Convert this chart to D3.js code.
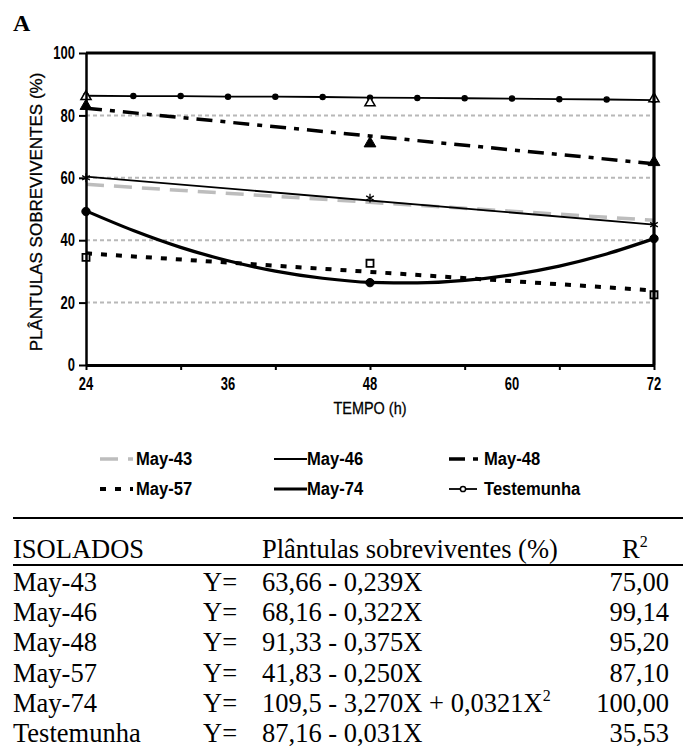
<!DOCTYPE html>
<html>
<head>
<meta charset="utf-8">
<script src="https://cdn.jsdelivr.net/npm/d3@7"></script>
<style>
  body { margin: 0; background: #fff; }
</style>
</head>
<body>
<div id="chart"></div>
<script>
// valores
var trendHours = [24, 72];
var may43 = [57.9, 46.4];
var may46 = [60.4, 45.0];
var may48 = [82.3, 64.5];
var may57 = [35.8, 23.9];

var curveHours = [24, 28, 32, 36, 40, 44, 48, 52, 56, 60, 64, 68, 72];
var may74 = [49.4, 43.1, 37.7, 33.4, 30.1, 27.8, 26.5, 26.3, 27.1, 28.9, 31.7, 35.6, 40.5];
var testemunha = [86.3, 86.2, 86.2, 86.0, 86.0, 85.9, 85.7, 85.6, 85.5, 85.4, 85.2, 85.1, 84.9];

var pointHours = [24, 48, 72];
var may46Pts = [60.0, 53.5, 45.0];
var may48Pts = [83.0, 71.0, 65.0];
var may57Pts = [34.5, 32.6, 22.5];
var may74Pts = [49.2, 26.4, 40.5];
var testPts = [86.0, 84.0, 85.3];

var yTicks = [0, 20, 40, 60, 80, 100];
var xTicks = [24, 32, 40, 48, 56, 64, 72];
var xLabels = [24, 36, 48, 60, 72];

var legendNames = ["May-43", "May-46", "May-48", "May-57", "May-74", "Testemunha"];

var isolados = ["May-43", "May-46", "May-48", "May-57", "May-74", "Testemunha"];
var equacoes = ["63,66 - 0,239X", "68,16 - 0,322X", "91,33 - 0,375X", "41,83 - 0,250X", "109,5 - 3,270X + 0,0321X", "87,16 - 0,031X"];
var expoentes = ["", "", "", "", "2", ""];
var r2 = ["75,00", "99,14", "95,20", "87,10", "100,00", "35,53"];

var sansFont = "'Liberation Sans', Arial, sans-serif";
var serifFont = "'Liberation Serif', 'Times New Roman', serif";

var styles = {
	"May-43": {stroke: "#bdbdbd", width: 3.5, dash: "18,10"},
	"May-46": {stroke: "#000", width: 1.8, dash: null},
	"May-48": {stroke: "#000", width: 3.5, dash: "16,8,5,8"},
	"May-57": {stroke: "#000", width: 4, dash: "6,9"},
	"May-74": {stroke: "#000", width: 3.2, dash: null},
	"Testemunha": {stroke: "#000", width: 1.8, dash: null}
};

function condense(sel, k) {
	sel.each(function() {
		var w = this.getComputedTextLength();
		d3.select(this).attr("textLength", w * k).attr("lengthAdjust", "spacingAndGlyphs");
	});
}

var width = 683, height = 747;
var svg = d3.select("#chart").append("svg")
	.attr("width", width).attr("height", height)
	.style("background", "#fff");

var x = d3.scaleLinear().domain([24, 72]).range([86, 654]);
var y = d3.scaleLinear().domain([0, 100]).range([365, 53]);

svg.append("text")
	.attr("x", 13).attr("y", 31)
	.attr("font-family", serifFont).attr("font-weight", "bold").attr("font-size", 24)
	.text("A");

// grade
svg.append("g").selectAll("line")
	.data(yTicks.filter(function(d) { return d > 0 && d < 100; }))
	.enter().append("line")
	.attr("x1", x(24)).attr("x2", x(72))
	.attr("y1", function(d) { return y(d); }).attr("y2", function(d) { return y(d); })
	.attr("stroke", "#b8b8b8").attr("stroke-width", 2).attr("stroke-dasharray", "4,3");

var line = d3.line()
	.x(function(d) { return x(d[0]); })
	.y(function(d) { return y(d[1]); });

var curve = d3.line()
	.x(function(d) { return x(d[0]); })
	.y(function(d) { return y(d[1]); })
	.curve(d3.curveMonotoneX);

var series = [
	{name: "May-43", pts: d3.zip(trendHours, may43), gen: line},
	{name: "May-46", pts: d3.zip(trendHours, may46), gen: line},
	{name: "May-48", pts: d3.zip(trendHours, may48), gen: line},
	{name: "May-57", pts: d3.zip(trendHours, may57), gen: line},
	{name: "May-74", pts: d3.zip(curveHours, may74), gen: curve},
	{name: "Testemunha", pts: d3.zip(curveHours, testemunha), gen: line}
];

svg.append("g").selectAll("path")
	.data(series)
	.enter().append("path")
	.attr("d", function(d) { return d.gen(d.pts); })
	.attr("fill", "none")
	.attr("stroke", function(d) { return styles[d.name].stroke; })
	.attr("stroke-width", function(d) { return styles[d.name].width; })
	.attr("stroke-dasharray", function(d) { return styles[d.name].dash; });

// marcadores da testemunha
svg.append("g").selectAll("circle")
	.data(d3.zip(curveHours, testemunha))
	.enter().append("circle")
	.attr("cx", function(d) { return x(d[0]); })
	.attr("cy", function(d) { return y(d[1]); })
	.attr("r", 2.6)
	.attr("fill", "#000").attr("stroke", "#000").attr("stroke-width", 1.2);

function markers(vals, type, size, fill, sw) {
	svg.append("g").selectAll("path")
		.data(d3.zip(pointHours, vals))
		.enter().append("path")
		.attr("transform", function(d) { return "translate(" + x(d[0]) + "," + y(d[1]) + ")"; })
		.attr("d", d3.symbol().type(type).size(size))
		.attr("fill", fill).attr("stroke", "#000").attr("stroke-width", sw);
}
markers(testPts, d3.symbolTriangle, 45, "#fff", 1.5);
markers(may48Pts, d3.symbolTriangle, 60, "#000", 1);
markers(may46Pts, d3.symbolAsterisk, 55, "none", 1.3);
markers(may57Pts, d3.symbolSquare, 50, "#fff", 1.8);
markers(may74Pts, d3.symbolCircle, 55, "#000", 1);

// moldura
svg.append("path")
	.attr("d", "M" + x.range()[0] + "," + y.range()[1] + "H" + x.range()[1] + "V" + y.range()[0])
	.attr("fill", "none").attr("stroke", "#000").attr("stroke-width", 3.2);

var yAxis = svg.append("g")
	.attr("transform", "translate(" + x(24) + ",0)")
	.call(d3.axisLeft(y).tickValues(yTicks).tickSize(7).tickSizeOuter(0).tickPadding(4));
yAxis.select(".domain").attr("stroke-width", 2.5);
yAxis.selectAll(".tick line").attr("stroke-width", 2);
yAxis.selectAll(".tick text")
	.attr("font-family", sansFont).attr("font-size", 18).attr("font-weight", "bold").attr("fill", "#000")
	.call(condense, 0.72);

var xAxis = svg.append("g")
	.attr("transform", "translate(0," + y(0) + ")")
	.call(d3.axisBottom(x).tickValues(xTicks).tickSize(5).tickSizeOuter(0).tickPadding(10)
		.tickFormat(function() { return ""; }));
xAxis.select(".domain").attr("stroke-width", 3.2);
xAxis.selectAll(".tick line").attr("stroke-width", 2);

svg.append("g").selectAll("text")
	.data(xLabels)
	.enter().append("text")
	.attr("x", function(d) { return x(d); })
	.attr("y", 390)
	.attr("text-anchor", "middle")
	.attr("font-family", sansFont).attr("font-size", 18).attr("font-weight", "bold")
	.text(function(d) { return d; })
	.call(condense, 0.72);

svg.append("text")
	.attr("x", x(48)).attr("y", 414)
	.attr("text-anchor", "middle")
	.attr("font-family", sansFont).attr("font-size", 17)
	.attr("stroke", "#000").attr("stroke-width", 0.3)
	.text("TEMPO (h)")
	.call(condense, 0.85);

svg.append("text")
	.attr("transform", "translate(42," + ((y(0) + y(100)) / 2 + 3) + ") rotate(-90)")
	.attr("text-anchor", "middle")
	.attr("font-family", sansFont).attr("font-size", 17)
	.attr("stroke", "#000").attr("stroke-width", 0.3)
	.text("PLÂNTULAS SOBREVIVENTES (%)")
	.call(condense, 1.0);

// legenda
var legendCols = [100, 274, 449];
var legendRows = [459, 489];
var legend = svg.append("g").selectAll("g")
	.data(legendNames)
	.enter().append("g")
	.attr("transform", function(d, i) {
		return "translate(" + legendCols[i % 3] + "," + legendRows[Math.floor(i / 3)] + ")";
	});

legend.append("line")
	.attr("x1", 0).attr("x2", function(d) { return d === "Testemunha" ? 28 : 33; })
	.attr("y1", 0).attr("y2", 0)
	.attr("stroke", function(d) { return styles[d].stroke; })
	.attr("stroke-width", function(d) { return styles[d].width; })
	.attr("stroke-dasharray", function(d) { return styles[d].dash; });

legend.filter(function(d) { return d === "Testemunha"; })
	.append("circle")
	.attr("cx", 14).attr("cy", 0).attr("r", 2.6)
	.attr("fill", "#fff").attr("stroke", "#000").attr("stroke-width", 1.5);

legend.append("text")
	.attr("x", function(d) { return d === "May-57" || d === "May-43" ? 36 : (d === "May-46" || d === "May-74" ? 33 : 35); })
	.attr("y", 6)
	.attr("font-family", sansFont).attr("font-size", 18).attr("font-weight", "bold")
	.text(function(d) { return d; })
	.call(condense, 0.92);

// tabela
var table = svg.append("g").attr("font-family", serifFont).attr("font-size", 26.5);

table.append("line")
	.attr("x1", 13).attr("x2", 683).attr("y1", 518).attr("y2", 518)
	.attr("stroke", "#000").attr("stroke-width", 2);
table.append("line")
	.attr("x1", 13).attr("x2", 683).attr("y1", 565).attr("y2", 565)
	.attr("stroke", "#000").attr("stroke-width", 2);

table.append("text").attr("x", 13).attr("y", 558).text("ISOLADOS");
table.append("text").attr("x", 262).attr("y", 558).text("Plântulas sobreviventes (%)");
var rHead = table.append("text").attr("x", 622).attr("y", 558).text("R");
rHead.append("tspan").attr("dy", -11).attr("font-size", 16).text("2");

var rowY = d3.scaleLinear().domain([0, 5]).range([591, 742]);

var rows = table.selectAll("g.row")
	.data(isolados)
	.enter().append("g")
	.attr("class", "row")
	.attr("transform", function(d, i) { return "translate(0," + rowY(i) + ")"; });

rows.append("text").attr("x", 13).text(function(d) { return d; });
rows.append("text").attr("x", 203).text("Y=");
var eq = rows.append("text").attr("x", 262).text(function(d, i) { return equacoes[i]; });
eq.append("tspan").attr("dy", -11).attr("font-size", 16).text(function(d, i) { return expoentes[i]; });
rows.append("text").attr("x", 669).attr("text-anchor", "end").text(function(d, i) { return r2[i]; });
</script>
</body>
</html>
